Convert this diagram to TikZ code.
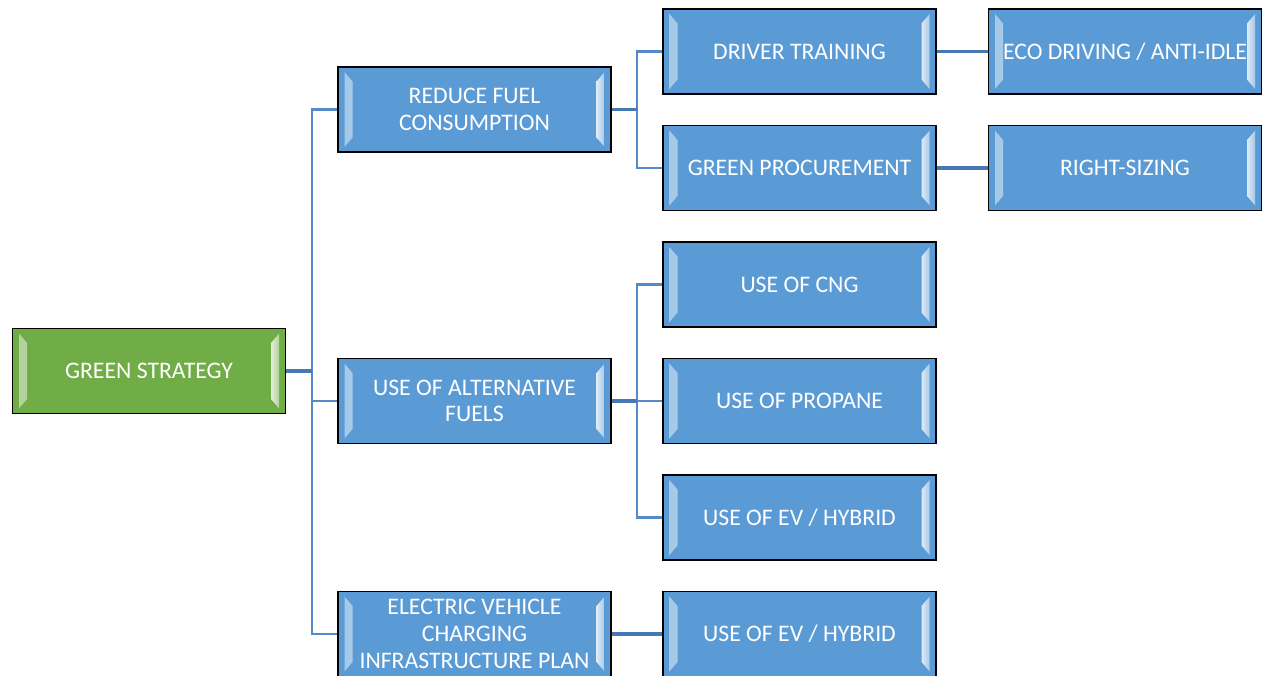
\documentclass[tikz,border=0pt]{standalone}
\usepackage{fontspec}
\setmainfont{Carlito}
\usepackage{tikz}
\usetikzlibrary{positioning, calc}

\definecolor{boxblue}{RGB}{91,155,213}
\definecolor{boxgreen}{RGB}{112,173,71}
\definecolor{linkblue}{RGB}{84,138,200}
\definecolor{stemblue}{RGB}{70,120,180}

\tikzset{
  bevel/.style={path picture={
    \fill[left color=white!45!#1, right color=white!80!#1]
      ($(path picture bounding box.north west)+(5pt,-4pt)$) -- ++(6pt,-7pt)
      -- ($(path picture bounding box.south west)+(11pt,11pt)$) -- ++(-6pt,-7pt) -- cycle;
    \fill[right color=white!45!#1, left color=white!80!#1]
      ($(path picture bounding box.north east)+(-5pt,-4pt)$) -- ++(-6pt,-7pt)
      -- ($(path picture bounding box.south east)+(-11pt,11pt)$) -- ++(6pt,-7pt) -- cycle;
  }},
  box/.style={draw=black, line width=1.2pt, fill=boxblue, bevel=boxblue,
    minimum width=205pt, minimum height=64pt, inner sep=0pt,
    text=white, align=center,
    font=\fontsize{17.8}{20}\selectfont},
  rootbox/.style={box, fill=boxgreen, bevel=boxgreen},
  link/.style={draw=linkblue, line width=2pt},
  stem/.style={draw=stemblue, line width=2.8pt}
}

\begin{document}
\begin{tikzpicture}[x=0.75pt, y=-0.75pt]
    \useasboundingbox (0,0) rectangle (1262,675);
    %
    \node[rootbox] (root) at (149,371) {GREEN STRATEGY};
    %
    \node[box] (fuel) at (474.5,109.5) {REDUCE FUEL\\CONSUMPTION};
    \node[box] (alt) at (474.5,401) {USE OF ALTERNATIVE\\FUELS};
    \node[box] (evplan) at (474.5,634) {ELECTRIC VEHICLE\\CHARGING\\INFRASTRUCTURE PLAN};
    %
    \node[box] (train) at (799.5,51.5) {DRIVER TRAINING};
    \node[box] (proc) at (799.5,168) {GREEN PROCUREMENT};
    \node[box] (cng) at (799.5,284.5) {USE OF CNG};
    \node[box] (propane) at (799.5,401) {USE OF PROPANE};
    \node[box] (hybrid) at (799.5,517.5) {USE OF EV / HYBRID};
    \node[box] (evuse) at (799.5,634) {USE OF EV / HYBRID};
    %
    \node[box] (eco) at (1125,51.5) {ECO DRIVING / ANTI-IDLE};
    \node[box] (rightsz) at (1125,168) {RIGHT-SIZING};
    %
    \coordinate (trunk) at (312,371);
    \coordinate (fueljoin) at (637,109.5);
    \coordinate (altjoin) at (637,401);
    %
    \draw[link] (trunk) |- (fuel.west);
    \draw[link] (trunk) |- (alt.west);
    \draw[link] (trunk) |- (evplan.west);
    \draw[stem] (root.east) -- (trunk);
    %
    \draw[link] (fueljoin) |- (train.west);
    \draw[link] (fueljoin) |- (proc.west);
    \draw[stem] (fuel.east) -- (fueljoin);
    \draw[link] (altjoin) |- (cng.west);
    \draw[link] (altjoin) |- (propane.west);
    \draw[link] (altjoin) |- (hybrid.west);
    \draw[stem] (alt.east) -- (altjoin);
    \draw[stem] (evplan.east) -- (evuse.west);
    %
    \draw[stem] (train.east) -- (eco.west);
    \draw[stem] (proc.east) -- (rightsz.west);
  \end{tikzpicture}
\end{document}
